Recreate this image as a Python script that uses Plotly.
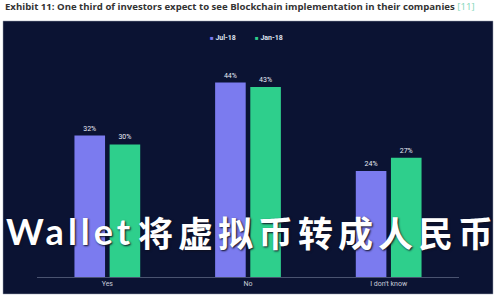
import plotly.graph_objects as go

categories = ["Yes", "No", "I don't know"]
series_names = ["Jul-18", "Jan-18"]
jul18 = [32, 44, 24]
jan18 = [30, 43, 27]
colors = ["#7b7bef", "#2ecf8c"]
title_text = "Exhibit 11: One third of investors expect to see Blockchain implementation in their companies"
title_ref = "[11]"
overlay_latin = "Wallet"
overlay_cjk = "将虚拟币转成人民币"

W, H = 500, 300
L, R, T, B = 37, 41, 56, 23
pw, ph = W - L - R, H - T - B

def px(x):
    return (x - L) / pw

def py(y):
    return (H - B - y) / ph

fig = go.Figure()
for name, vals, col in zip(series_names, [jul18, jan18], colors):
    fig.add_trace(go.Bar(
        x=categories, y=vals, name=name, marker=dict(color=col, line=dict(width=0)),
        text=[f"{v}%" for v in vals], textposition="outside",
        textfont=dict(color="#e8ebf5", size=7, family="Roboto"),
        cliponaxis=False, showlegend=False,
    ))

fig.update_layout(
    width=W, height=H,
    margin=dict(l=L, r=R, t=T, b=B, pad=0),
    paper_bgcolor="white", plot_bgcolor="rgba(0,0,0,0)",
    barmode="group", bargap=0.5, bargroupgap=0.13,
    xaxis=dict(showline=True, linecolor="#4a5370", linewidth=1, showgrid=False,
               ticks="", tickfont=dict(color="#c8ccd8", size=7, family="Roboto"), fixedrange=True),
    yaxis=dict(range=[0, 50], visible=False, showgrid=False),
    shapes=[dict(type="rect", xref="paper", yref="paper",
                 x0=px(3), x1=px(493), y0=py(294), y1=py(21),
                 fillcolor="#0b1333", line=dict(color="#9aa0b0", width=0.5), layer="below")],
)

annotations = [
    dict(text=f"<b>{title_text}</b> <span style='color:#7fd6b8'>{title_ref}</span>",
         xref="paper", yref="paper", x=px(3), y=py(7), xanchor="left", yanchor="middle",
         showarrow=False, font=dict(size=9.6, color="#333333", family="Open Sans")),
]
leg_x = [208, 253]
for name, col, lx in zip(series_names, colors, leg_x):
    annotations.append(dict(
        text=f"<span style='color:{col};font-size:6px'>■</span> <b>{name}</b>",
        xref="paper", yref="paper", x=px(lx), y=py(38), xanchor="left", yanchor="middle",
        showarrow=False, font=dict(size=7, color="#dfe3f0", family="Roboto")))
annotations.append(dict(
    text=f"<b><span style='letter-spacing:4px'>{overlay_latin}</span></b>", xref="paper", yref="paper",
    x=px(4), y=py(231), xanchor="left", yanchor="middle", showarrow=False,
    font=dict(size=36, color="white", family="Lato", shadow="1px 1px 2px #101020")))
annotations.append(dict(
    text=f"<b><span style='letter-spacing:5px'>{overlay_cjk}</span></b>", xref="paper", yref="paper",
    x=px(500), y=py(231), xanchor="right", yanchor="middle", showarrow=False,
    font=dict(size=35, color="white", family="Noto Sans CJK SC", shadow="1px 1px 2px #101020")))
fig.update_layout(annotations=annotations)

fig.write_html("out.html")
